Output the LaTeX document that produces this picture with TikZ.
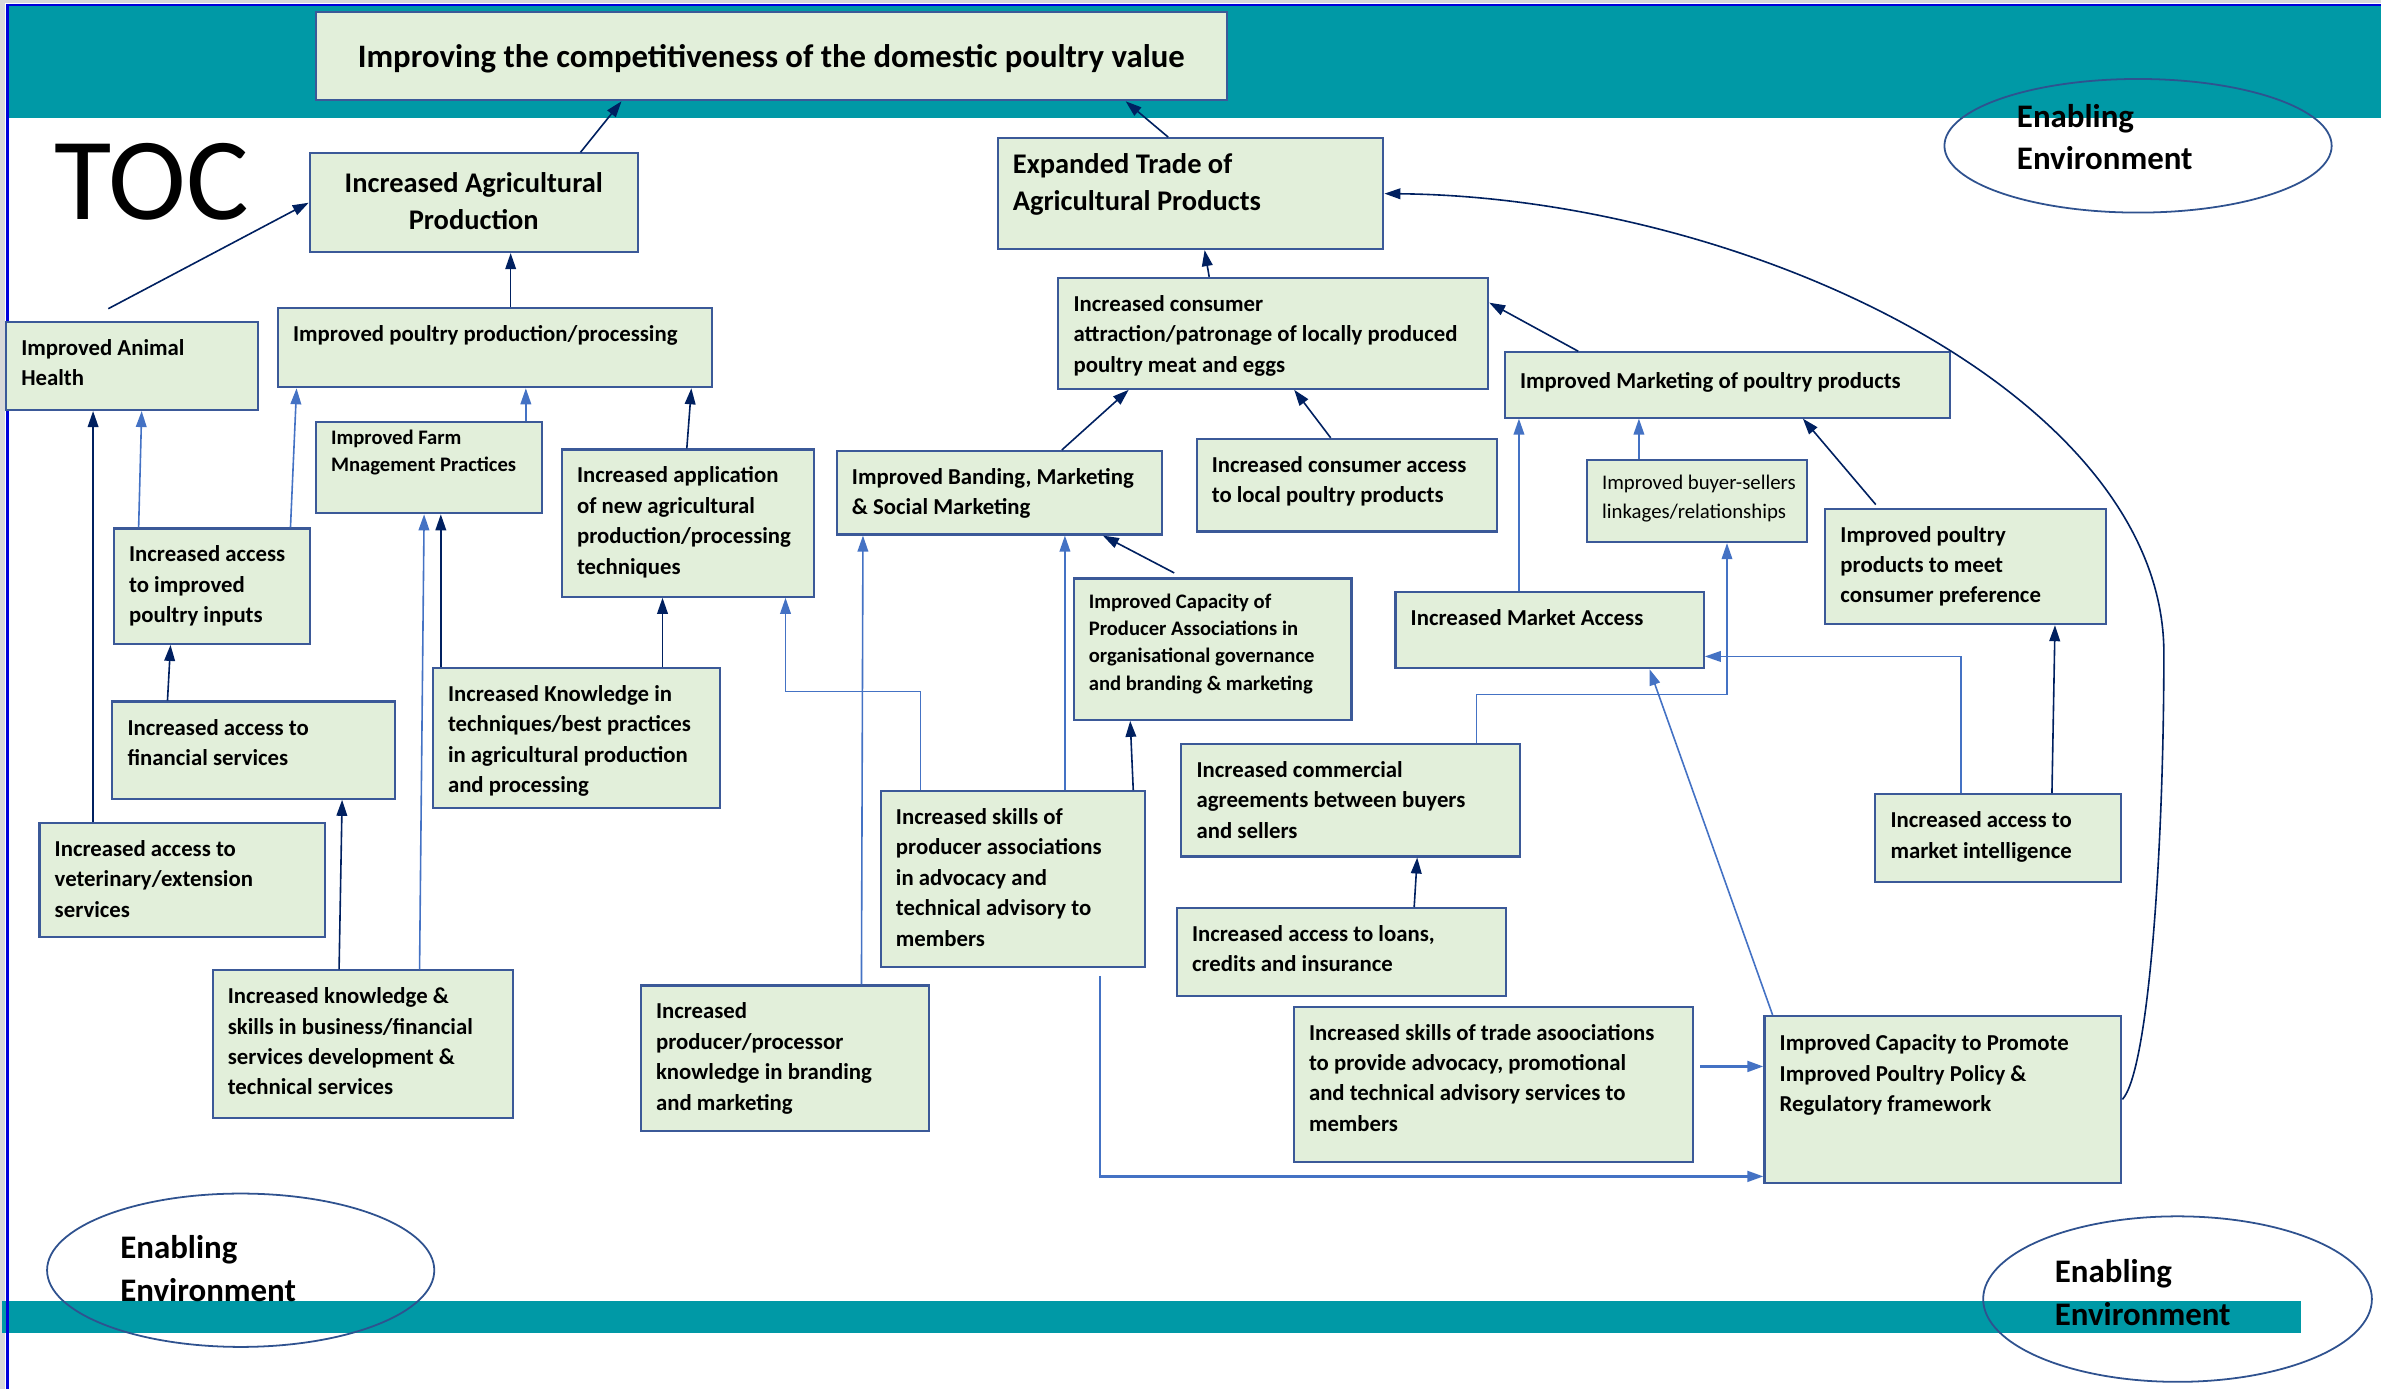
\documentclass[tikz,border=0pt]{standalone}
\usepackage{fontspec}
\setmainfont{Carlito}
\usepackage{tikz}
\usetikzlibrary{arrows.meta, shapes.geometric}

\definecolor{tealband}{RGB}{0,153,166}
\definecolor{boxfill}{RGB}{226,239,218}
\definecolor{boxline}{RGB}{59,89,152}
\definecolor{navy}{RGB}{0,32,96}
\definecolor{lightblue}{RGB}{68,114,196}
\definecolor{frameblue}{RGB}{0,0,220}
\definecolor{ellline}{RGB}{47,82,143}

\begin{document}
\begin{tikzpicture}[x=0.03cm, y=-0.03cm,
	resultbox/.style={draw=boxline, fill=boxfill, line width=1.2pt, inner sep=0pt},
	bodytext/.style={anchor=north west, inner sep=0pt, align=left, yshift=0.225cm, font=\bfseries\fontsize{12.8}{17.07}\selectfont},
	smalltext/.style={anchor=north west, inner sep=0pt, align=left, yshift=0.2cm, font=\bfseries\fontsize{11.6}{15.4}\selectfont},
	thintext/.style={anchor=north west, inner sep=0pt, align=left, yshift=0.22cm, font=\fontsize{11.7}{16.2}\selectfont},
	bigtext/.style={anchor=north west, inner sep=0pt, align=left, yshift=0.285cm, font=\bfseries\fontsize{16}{20.9}\selectfont},
	envtext/.style={anchor=north west, inner sep=0pt, align=left, yshift=0.36cm, font=\bfseries\fontsize{18.5}{23.9}\selectfont},
	envring/.style={ellipse, draw=ellline, line width=1pt, inner sep=0pt},
	navyarrow/.style={draw=navy, line width=0.9pt, -{Triangle[length=9pt, width=6pt]}},
	bluearrow/.style={draw=lightblue, line width=0.9pt, -{Triangle[length=9pt, width=6pt]}}
]

% #1 first line offset, #2 name, #3 text style, #4-#7 left top right bottom, #8 text
\newcommand{\tocbox}[8][16]{%
	\node[resultbox, minimum width={(#6-#4)*0.03cm}, minimum height={(#7-#5)*0.03cm}] (#2) at ({(#4+#6)/2}, {(#5+#7)/2}) {};
	\node[#3] (#2 text) at ([shift={(10.5,#1)}]#2.north west) {\strut #8};
}

\useasboundingbox (0,0) rectangle (1568,915);

% bands and frame
\fill[gray!30] (0,0) rectangle (1568,2);
\fill[gray!30] (0,0) rectangle (3,915);
\fill[tealband] (4,3) rectangle (1568,78);
\fill[tealband] (1,857) rectangle (1515,878);
\draw[frameblue, line width=1.3pt] (1568,3.5) -- (5,3.5) -- (5,915);

\node[font=\fontsize{66}{70}\selectfont] (toc) at (100,120) {TOC};

% enabling environment
\node[envring, minimum width={255*0.03cm}, minimum height={88*0.03cm}] (env top) at (1408,96) {};
\node[envtext] (env top text) at (1328,76) {\strut Enabling\\Environment};
\node[envring, minimum width={255*0.03cm}, minimum height={101*0.03cm}] (env left) at (158.5,836.5) {};
\node[envtext] (env left text) at (79,821) {\strut Enabling\\Environment};
\node[envring, minimum width={256*0.03cm}, minimum height={109*0.03cm}] (env right) at (1434,855.5) {};
\node[envtext] (env right text) at (1353,837) {\strut Enabling\\Environment};

% results
\node[resultbox, minimum width={600*0.03cm}, minimum height={58*0.03cm}, font=\bfseries\fontsize{18.4}{22}\selectfont] (title) at (508,37) {\raisebox{-0.06cm}[\height][\depth]{Improving the competitiveness of the domestic poultry value}};
\node[resultbox, minimum width={216*0.03cm}, minimum height={65*0.03cm}, align=center, font=\bfseries\fontsize{16}{20.9}\selectfont] (agri) at (312,133.5) {\raisebox{0.03cm}[\height][\depth]{Increased Agricultural}\\\raisebox{0.03cm}[\height][\depth]{Production}};
\tocbox{trade}{bigtext}{657}{91}{911}{164}{Expanded Trade of\\Agricultural Products}

\tocbox{animal}{bodytext}{4}{212}{170}{270}{Improved Animal\\Health}
\tocbox{poultry}{bodytext}{183}{203}{469}{255}{Improved poultry production/processing}
\tocbox{consumer}{bodytext}{697}{183}{980}{256}{Increased consumer\\attraction/patronage of locally produced\\poultry meat and eggs}
\tocbox[18]{marketing}{bodytext}{991}{232}{1284}{275}{Improved Marketing of poultry products}
\tocbox[9]{farm}{smalltext}{208}{278}{357}{338}{Improved Farm\\Mnagement Practices}
\tocbox{application}{bodytext}{370}{296}{536}{393}{Increased application\\of new agricultural\\production/processing\\techniques}
\tocbox{banding}{bodytext}{551}{297}{765}{352}{Improved Banding, Marketing\\\& Social Marketing}
\tocbox{consaccess}{bodytext}{788}{289}{986}{350}{Increased consumer access\\to local poultry products}
\tocbox[14]{linkages}{thintext}{1045}{303}{1190}{357}{Improved buyer-sellers\\linkages/relationships}
\tocbox{preference}{bodytext}{1202}{335}{1387}{411}{Improved poultry\\products to meet\\consumer preference}
\tocbox{inputs}{bodytext}{75}{348}{204}{424}{Increased access\\to improved\\poultry inputs}
\tocbox[14]{capacity}{smalltext}{707}{381}{890}{474}{Improved Capacity of\\Producer Associations in\\organisational governance\\and branding \& marketing}
\tocbox{market}{bodytext}{919}{390}{1122}{440}{Increased Market Access}
\tocbox{financial}{bodytext}{74}{462}{260}{526}{Increased access to\\financial services}
\tocbox{knowledge}{bodytext}{285}{440}{474}{532}{Increased Knowledge in\\techniques/best practices\\in agricultural production\\and processing}
\tocbox{commercial}{bodytext}{778}{490}{1001}{564}{Increased commercial\\agreements between buyers\\and sellers}
\tocbox{skills}{bodytext}{580}{521}{754}{637}{Increased skills of\\producer associations\\in advocacy and\\technical advisory to\\members}
\tocbox{intelligence}{bodytext}{1235}{523}{1397}{581}{Increased access to\\market intelligence}
\tocbox{veterinary}{bodytext}{26}{542}{214}{617}{Increased access to\\veterinary/extension\\services}
\tocbox{loans}{bodytext}{775}{598}{992}{656}{Increased access to loans,\\credits and insurance}
\tocbox{business}{bodytext}{140}{639}{338}{736}{Increased knowledge \&\\skills in business/financial\\services development \&\\technical services}
\tocbox{branding}{bodytext}{422}{649}{612}{745}{Increased\\producer/processor\\knowledge in branding\\and marketing}
\tocbox{tradeassoc}{bodytext}{852}{663}{1115}{765}{Increased skills of trade asoociations\\to provide advocacy, promotional\\and technical advisory services to\\members}
\tocbox[17]{policy}{bodytext}{1162}{669}{1397}{779}{Improved Capacity to Promote\\Improved Poultry Policy \&\\Regulatory framework}

% dark links
\draw[navyarrow] ([shift={(179,0)}]agri.north west) -- ([shift={(202,0)}]title.south west);
\draw[navyarrow] ([shift={(113,0)}]trade.north west) -- ([shift={(534,0)}]title.south west);
\draw[navyarrow] ([shift={(68,-8)}]animal.north west) -- (agri.west);
\draw[navyarrow] ([shift={(154,0)}]poultry.north west) -- ([shift={(133,0)}]agri.south west);
\draw[navyarrow] ([shift={(100,0)}]consumer.north west) -- ([shift={(137,0)}]trade.south west);
\draw[navyarrow] ([shift={(49,0)}]marketing.north west) -- ([shift={(0,17)}]consumer.north east);
\draw[navyarrow] ([shift={(149,0)}]banding.north west) -- ([shift={(47,0)}]consumer.south west);
\draw[navyarrow] ([shift={(89,0)}]consaccess.north west) -- ([shift={(156,0)}]consumer.south west);
\draw[navyarrow] ([shift={(34,-2)}]preference.north west) -- ([shift={(197,0)}]marketing.south west);
\draw[navyarrow] ([shift={(83,0)}]application.north west) -- ([shift={(273,0)}]poultry.south west);
\draw[navyarrow] ([shift={(152,0)}]knowledge.north west) -- ([shift={(67,0)}]application.south west);
\draw[navyarrow] ([shift={(6,0)}]knowledge.north west) -- ([shift={(83,0)}]farm.south west);
\draw[navyarrow] ([shift={(37,0)}]financial.north west) -- ([shift={(38,0)}]inputs.south west);
\draw[navyarrow] ([shift={(36,0)}]veterinary.north west) -- ([shift={(58,0)}]animal.south west);
\draw[navyarrow] ([shift={(84,0)}]business.north west) -- ([shift={(152,0)}]financial.south west);
\draw[navyarrow] ([shift={(167,0)}]skills.north west) -- ([shift={(38,0)}]capacity.south west);
\draw[navyarrow] ([shift={(67,-3)}]capacity.north west) -- ([shift={(176,0)}]banding.south west);
\draw[navyarrow] ([shift={(157,0)}]loans.north west) -- ([shift={(156,0)}]commercial.south west);
\draw[navyarrow] ([shift={(117,0)}]intelligence.north west) -- ([shift={(152,0)}]preference.south west);
\draw[navyarrow] (policy.east) .. controls (1415,705) and (1425,560) .. (1425,430) .. controls (1425,260) and (1150,130) .. (trade.east); % policy feeds trade

% light links
\draw[bluearrow] ([shift={(17,0)}]inputs.north west) -- ([shift={(90,0)}]animal.south west);
\draw[bluearrow] ([shift={(117,0)}]inputs.north west) -- ([shift={(13,0)}]poultry.south west);
\draw[bluearrow] ([shift={(139,0)}]farm.north west) -- ([shift={(164,0)}]poultry.south west);
\draw[bluearrow] ([shift={(137,0)}]business.north west) -- ([shift={(72,0)}]farm.south west);
\draw[bluearrow] ([shift={(27,0)}]skills.north west) -- ++(0,-65) -| ([shift={(148,0)}]application.south west);
\draw[bluearrow] ([shift={(146,0)}]branding.north west) -- ([shift={(18,0)}]banding.south west);
\draw[bluearrow] ([shift={(122,0)}]skills.north west) -- ([shift={(151,0)}]banding.south west);
\draw[bluearrow, line width=1.4pt] ([shift={(145,5)}]skills.south west) |- ([shift={(0,-5)}]policy.south west);
\draw[bluearrow, line width=1.6pt] ([shift={(4,40)}]tradeassoc.north east) -- ([shift={(0,34)}]policy.north west);
\draw[bluearrow] ([shift={(82,0)}]market.north west) -- ([shift={(10,0)}]marketing.south west);
\draw[bluearrow] ([shift={(35,0)}]linkages.north west) -- ([shift={(89,0)}]marketing.south west);
\draw[bluearrow] ([shift={(195,0)}]commercial.north west) -- ++(0,-32) -| ([shift={(93,0)}]linkages.south west);
\draw[bluearrow] ([shift={(57,0)}]intelligence.north west) |- ([shift={(0,43)}]market.north east);
\draw[bluearrow] ([shift={(6,0)}]policy.north west) -- ([shift={(168,0)}]market.south west);

\end{tikzpicture}
\end{document}
